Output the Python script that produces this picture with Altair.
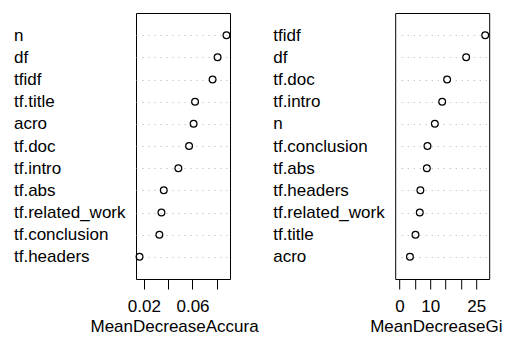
import altair as alt
import pandas as pd

acc_vars = ["n", "df", "tfidf", "tf.title", "acro", "tf.doc", "tf.intro",
            "tf.abs", "tf.related_work", "tf.conclusion", "tf.headers"]
acc_vals = [0.0879, 0.0806, 0.0765, 0.0621, 0.0609, 0.0572, 0.0484,
            0.0364, 0.0345, 0.0328, 0.0165]
gini_vars = ["tfidf", "df", "tf.doc", "tf.intro", "n", "tf.conclusion",
             "tf.abs", "tf.headers", "tf.related_work", "tf.title", "acro"]
gini_vals = [27.9, 21.7, 15.5, 13.9, 11.5, 9.1, 8.9, 6.8, 6.6, 5.2, 3.4]
acc_ticks = [0.02, 0.04, 0.06, 0.08]
acc_labels = ["0.02", "0.06"]
gini_ticks = [0, 5, 10, 15, 20, 25]
gini_labels = ["0", "10", "25"]
titles = ["MeanDecreaseAccuracy", "MeanDecreaseGini"]

FONT = "Liberation Sans"
W, H = 94, 266


def panel(vars_, vals, domain, ticks, labels, fmt, title, title_dx, title_limit):
    df = pd.DataFrame({"var": vars_, "value": vals})
    labexpr = ("indexof([" + ",".join(f"'{l}'" for l in labels)
               + "], datum.label) >= 0 ? datum.label : ''")
    pts = alt.Chart(df).mark_point(
        shape="circle", filled=False, color="black", size=46,
        strokeWidth=1.2, opacity=1
    ).encode(
        x=alt.X("value:Q",
                scale=alt.Scale(domain=domain, nice=False, zero=False),
                axis=alt.Axis(values=ticks, format=fmt, labelExpr=labexpr,
                              title=None, domain=False, grid=False,
                              ticks=True, tickSize=10, tickColor="black",
                              tickWidth=1, labelPadding=9.5, labelFontSize=17,
                              labelColor="black", labelFont=FONT,
                              labelFlush=False, labelOverlap=False)),
        y=alt.Y("var:N", sort=vars_,
                scale=alt.Scale(type="point", padding=1),
                axis=alt.Axis(title=None, domain=False, ticks=False,
                              labelAlign="left", labelPadding=122.5,
                              labelFontSize=17, labelColor="black",
                              labelFont=FONT, labelBaseline="middle",
                              grid=True, gridColor="#b0b0b0",
                              gridDash=[1, 5], gridWidth=1,
                              labelLimit=0)),
    )
    ttl = alt.Chart(pd.DataFrame({"t": [title]})).mark_text(
        align="left", baseline="alphabetic", fontSize=17, font=FONT,
        color="black", limit=title_limit, ellipsis="\u200b"
    ).encode(text="t:N", x=alt.value(title_dx), y=alt.value(H + 53))
    return alt.layer(pts, ttl).properties(width=W, height=H)


left = panel(acc_vars, acc_vals, [0.0136, 0.0908], acc_ticks, acc_labels,
             ".2f", titles[0], -45.5, 169)
right = panel(gini_vars, gini_vals, [-1.4, 29.2], gini_ticks, gini_labels,
              "d", titles[1], -25, 134)

chart = alt.hconcat(left, right, spacing=165.2, bounds="flush").properties(
    padding={"left": 5, "top": 4, "right": 0, "bottom": 0},
    background="white",
).configure_view(stroke="black", strokeWidth=1)

chart.save("out.html", embed_options={"renderer": "svg", "actions": False})
